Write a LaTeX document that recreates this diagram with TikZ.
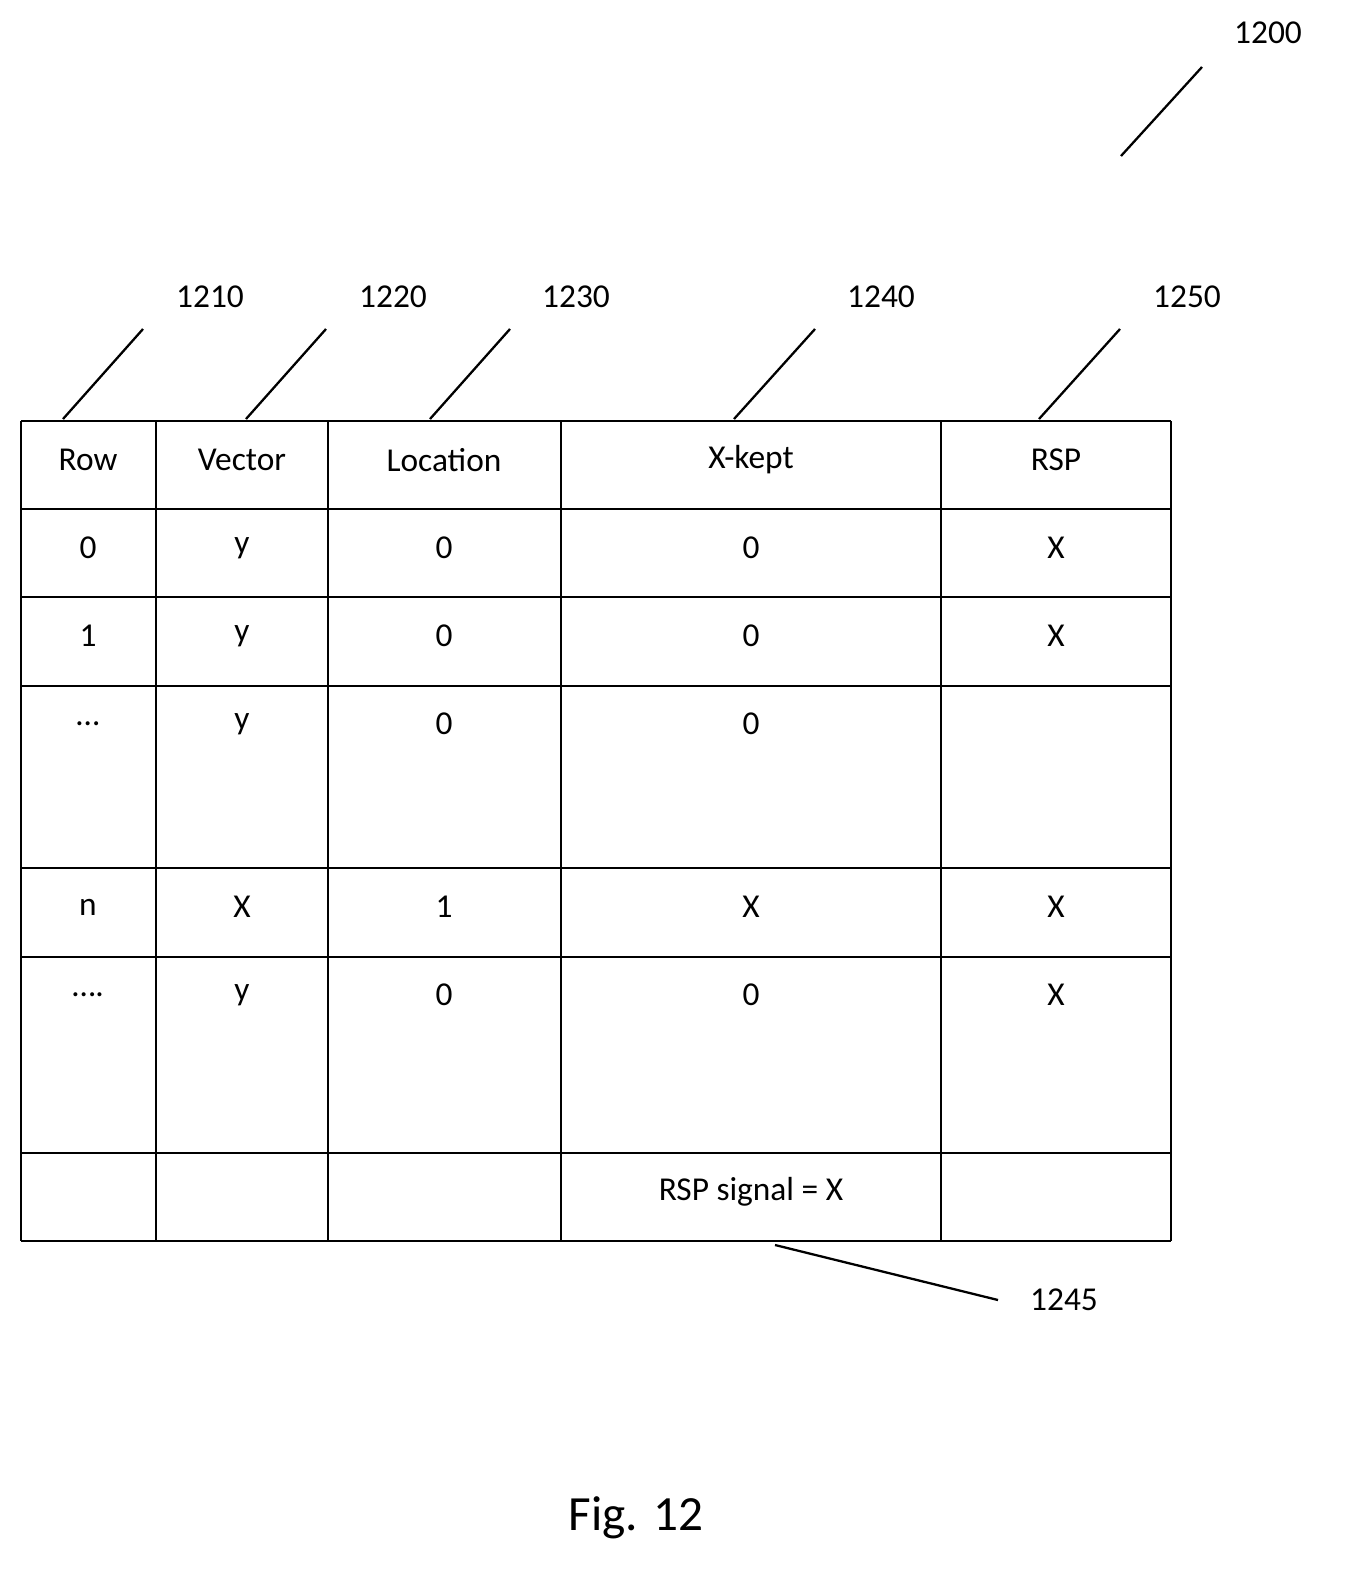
\documentclass[tikz,border=0pt]{standalone}
\usepackage{fontspec}
\setmainfont{Carlito}
\begin{document}
\begin{tikzpicture}[x=0.02cm,y=-0.02cm,
  cell/.style={font=\fontsize{19}{22}\selectfont},
  refnum/.style={font=\fontsize{19}{22}\selectfont},
  leader/.style={line width=1.3pt}]
  \useasboundingbox (0,0) rectangle (1349,1592);

  % Grid
  \foreach \y in {421,509,597,686,868,957,1153,1241}
    \draw[line width=1.3pt] (21,\y) -- (1171,\y);
  \foreach \x in {21,156,328,561,941,1171}
    \draw[line width=1.3pt] (\x,421) -- (\x,1241);

  % Header
  \node[cell] (hrow) at (88,460) {Row};
  \node[cell] (hvec) at (242,460) {Vector};
  \node[cell] (hloc) at (444,460) {Location};
  \node[cell] (hxk) at (751,460) {X-kept};
  \node[cell] (hrsp) at (1056,460) {RSP};

  % Body
  \foreach \y/\r/\v/\l/\k/\s in {548/0/y/0/0/X, 636/1/y/0/0/X, 724/\dots/y/0/0/{},
      907/n/X/1/X/X, 995/\dots./y/0/0/X} {
    \node[cell] at (88,\y) {\r};
    \node[cell] at (242,\y) {\v};
    \node[cell] at (444,\y) {\l};
    \node[cell] at (751,\y) {\k};
    \node[cell] at (1056,\y) {\s};
  }
  \node[cell] (sig) at (751,1192) {RSP signal = X};

  % Reference numerals
  \node[refnum] (n1200) at (1268,33) {1200};
  \node[refnum] (n1210) at (210,297) {1210};
  \node[refnum] (n1220) at (393,297) {1220};
  \node[refnum] (n1230) at (576,297) {1230};
  \node[refnum] (n1240) at (881,297) {1240};
  \node[refnum] (n1250) at (1187,297) {1250};
  \node[refnum] (n1245) at (1064,1300) {1245};

  % Leaders
  \draw[leader] (1121,156) -- (1202,67);
  \draw[leader] (63,419) -- (143,329);
  \draw[leader] (246,419) -- (326,329);
  \draw[leader] (430,419) -- (510,329);
  \draw[leader] (734,419) -- (815,329);
  \draw[leader] (1039,419) -- (1120,329);
  \draw[leader] (775,1245) -- (998,1300);

  \node[font=\fontsize{28}{32}\selectfont] (fig) at (636,1518) {Fig. 12};
\end{tikzpicture}
\end{document}
